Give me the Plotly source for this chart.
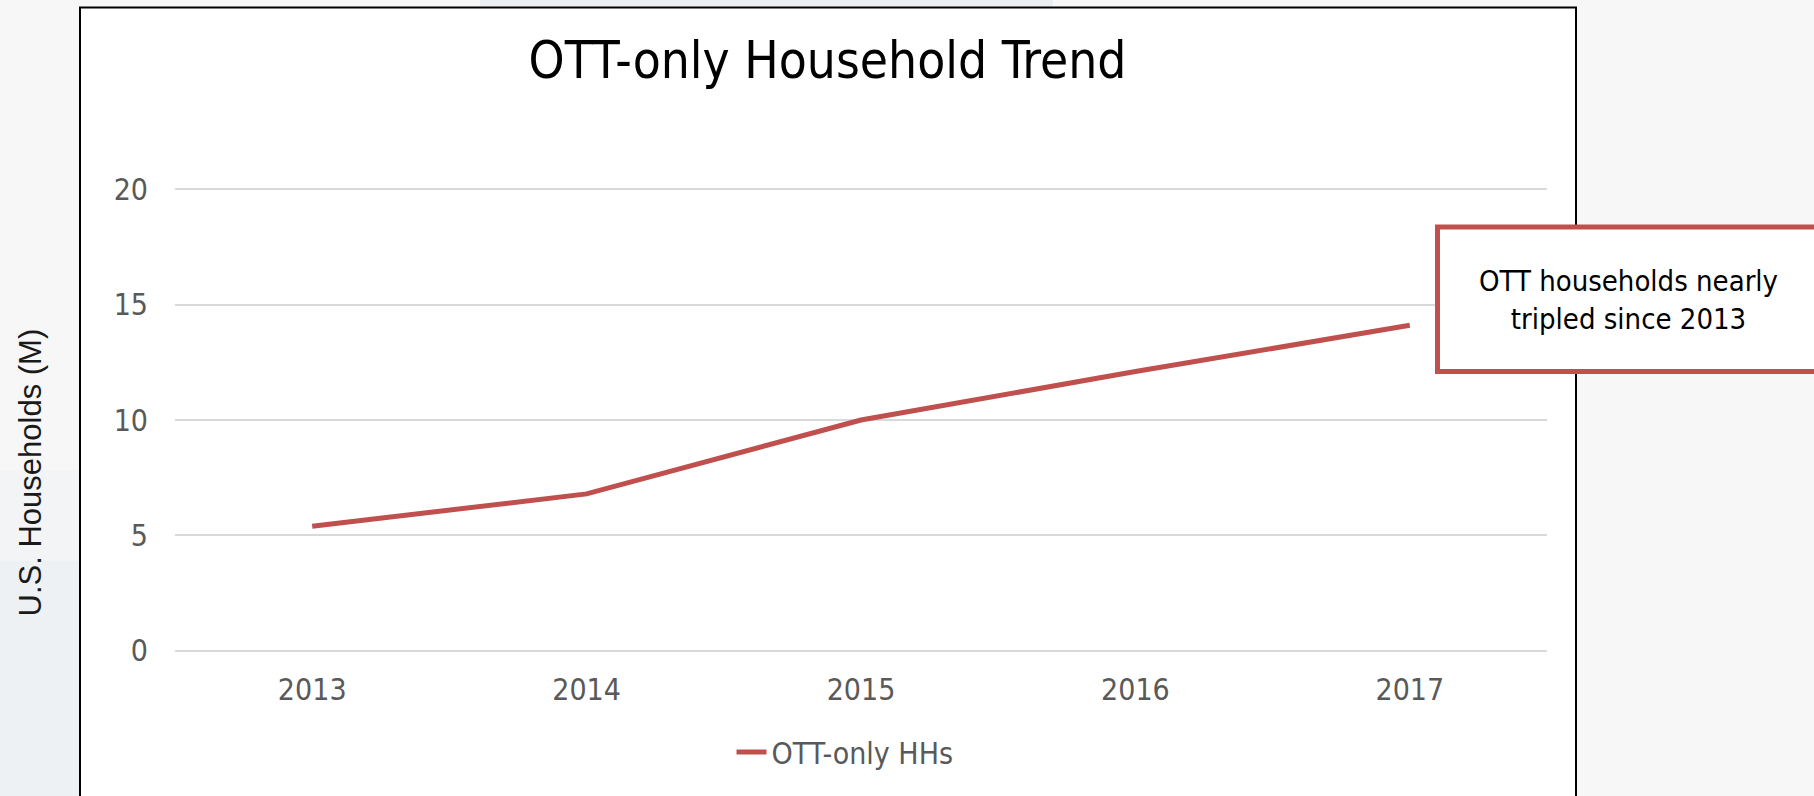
import plotly.graph_objects as go

# ---- data ----
years = ["2013", "2014", "2015", "2016", "2017"]
ott_only_hhs = [5.4, 6.8, 10.0, 12.1, 14.1]
y_ticks = [0, 5, 10, 15, 20]
series_name = "OTT-only HHs"
chart_title = "OTT-only Household Trend"
y_title = "U.S. Households (M)"
callout_text = "OTT households nearly<br>tripled since 2013"

# ---- geometry (pixels) ----
W, H = 1814, 796
PL, PR = 175, 1547          # plot area left/right
PT, PB = 165.5, 673.6       # plot area top/bottom (y range -1..21)

def px(x):
    return (x - PL) / (PR - PL)

def py(y):
    return (PB - y) / (PB - PT)

RED = "#C0504D"
NARROW = "Liberation Sans Narrow, Arial Narrow, DejaVu Sans Condensed, sans-serif"
REG = "DejaVu Sans Condensed, Liberation Sans, sans-serif"

fig = go.Figure()
fig.add_trace(go.Scatter(
    x=years, y=ott_only_hhs, mode="lines", name=series_name,
    line=dict(color=RED, width=5), hoverinfo="x+y",
))

shapes = [
    # faint background tints
    dict(type="rect", xref="paper", yref="paper", x0=px(0), x1=px(80),
         y0=py(470), y1=py(560), fillcolor="#f2f4f6", line=dict(width=0), layer="below"),
    dict(type="rect", xref="paper", yref="paper", x0=px(0), x1=px(80),
         y0=py(560), y1=py(800), fillcolor="#eef1f4", line=dict(width=0), layer="below"),
    dict(type="rect", xref="paper", yref="paper", x0=px(480), x1=px(1053),
         y0=py(-2), y1=py(7), fillcolor="#eceff2", line=dict(width=0), layer="below"),
    # chart frame
    dict(type="rect", xref="paper", yref="paper", x0=px(80), x1=px(1576),
         y0=py(810), y1=py(7), fillcolor="white", line=dict(color="black", width=2), layer="below"),
    # callout box
    dict(type="rect", xref="paper", yref="paper", x0=px(1437.5), x1=px(1840),
         y0=py(371), y1=py(226.5), fillcolor="white", line=dict(color=RED, width=5), layer="above"),
]

annotations = [
    dict(text=callout_text, xref="paper", yref="paper", x=px(1628), y=py(300),
         xanchor="center", yanchor="middle", showarrow=False, align="center",
         font=dict(family=REG, size=29, color="black")),
    dict(text=y_title, xref="paper", yref="paper", x=px(30), y=py(472),
         xanchor="center", yanchor="middle", showarrow=False, textangle=-90,
         font=dict(family="Liberation Sans, sans-serif", size=31, color="#1a1a1a")),
]

fig.update_layout(
    width=W, height=H, autosize=False,
    margin=dict(l=PL, r=W - PR, t=PT, b=H - PB, pad=0),
    paper_bgcolor="#f7f7f7", plot_bgcolor="rgba(0,0,0,0)",
    title=dict(text=chart_title, x=827.5 / W, xanchor="center", xref="container",
               y=1 - 60 / H, yanchor="middle", yref="container",
               font=dict(family=NARROW, size=51, color="black")),
    xaxis=dict(type="category", range=[-0.5, 4.5], showgrid=False, zeroline=False,
               showline=False, ticks="", tickfont=dict(family=NARROW, size=30, color="#595959"),
               ticklabelstandoff=-5),
    yaxis=dict(range=[-1, 21], tickvals=y_ticks, showgrid=True, gridcolor="#d9d9d9",
               gridwidth=1.5, zeroline=False, showline=False, ticks="",
               tickfont=dict(family=NARROW, size=30, color="#595959"),
               ticklabelstandoff=26),
    showlegend=True,
    legend=dict(orientation="h", x=px(845), xanchor="center", y=py(751.7), yanchor="middle",
                bgcolor="rgba(0,0,0,0)", font=dict(family=NARROW, size=30, color="#595959")),
    shapes=shapes, annotations=annotations,
)

fig.write_html("out.html", config={"displayModeBar": False},
               post_script="document.body.style.margin='0';document.body.style.background='#f7f7f7';")
